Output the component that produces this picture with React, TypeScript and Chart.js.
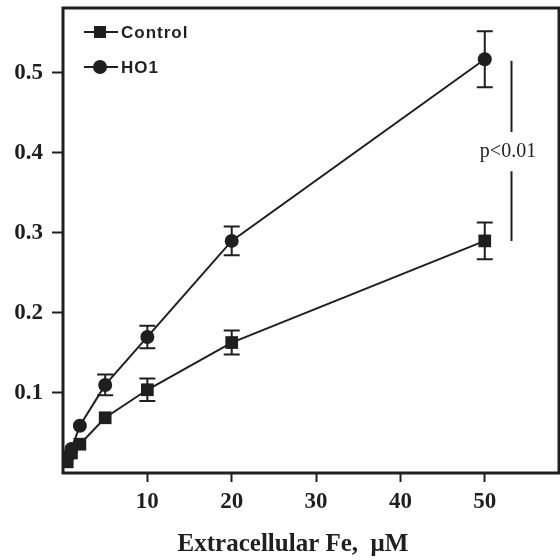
import React, { useEffect, useRef } from "react";
import { Chart, registerables } from "chart.js";

Chart.register(...registerables);

const xValues = [0.5, 1, 2, 5, 10, 20, 50];
const controlValues = [0.014, 0.025, 0.036, 0.069, 0.104, 0.163, 0.29];
const controlErrors = [0, 0, 0, 0, 0.014, 0.015, 0.023];
const ho1Values = [0.02, 0.03, 0.059, 0.11, 0.17, 0.29, 0.517];
const ho1Errors = [0, 0, 0, 0.013, 0.014, 0.018, 0.035];
const xTicks = [10, 20, 30, 40, 50];
const yTicks = [0.1, 0.2, 0.3, 0.4, 0.5];
const seriesNames = ["Control", "HO1"];
const xTitle = "Extracellular Fe,  \u03bcM";
const pText = "p<0.01";

const INK = "#1f1f1f";

const customPlugin = {
  id: "custom",
  afterDatasetsDraw(chart: any) {
    const ctx = chart.ctx;
    const xs = chart.scales.x;
    const ys = chart.scales.y;
    const errs = [controlErrors, ho1Errors];
    ctx.save();
    ctx.strokeStyle = INK;
    ctx.lineWidth = 2;
    chart.data.datasets.forEach((ds: any, di: number) => {
      ds.data.forEach((p: any, i: number) => {
        const e = errs[di][i];
        if (!e) return;
        const px = xs.getPixelForValue(p.x);
        const top = ys.getPixelForValue(p.y + e);
        const bot = ys.getPixelForValue(p.y - e);
        ctx.beginPath();
        ctx.moveTo(px, top);
        ctx.lineTo(px, bot);
        ctx.moveTo(px - 8, top);
        ctx.lineTo(px + 8, top);
        ctx.moveTo(px - 8, bot);
        ctx.lineTo(px + 8, bot);
        ctx.stroke();
      });
    });
    ctx.restore();
  },
  afterDraw(chart: any) {
    const ctx = chart.ctx;
    const a = chart.chartArea;
    const ys = chart.scales.y;
    ctx.save();
    // box
    ctx.strokeStyle = INK;
    ctx.lineWidth = 3;
    ctx.strokeRect(a.left, a.top, a.right - a.left, a.bottom - a.top);

    // legend
    const items = [
      { name: seriesNames[0], y: 32, style: "rect" },
      { name: seriesNames[1], y: 67, style: "circle" },
    ];
    items.forEach((it) => {
      ctx.strokeStyle = INK;
      ctx.fillStyle = INK;
      ctx.lineWidth = 2;
      ctx.beginPath();
      ctx.moveTo(84, it.y);
      ctx.lineTo(118, it.y);
      ctx.stroke();
      ctx.beginPath();
      if (it.style === "rect") {
        ctx.rect(94, it.y - 6, 12, 12);
      } else {
        ctx.arc(100, it.y, 7, 0, Math.PI * 2);
      }
      ctx.fill();
      ctx.font = "bold 17px 'Liberation Sans', Arial, sans-serif";
      (ctx as any).letterSpacing = "1px";
      ctx.textAlign = "left";
      ctx.textBaseline = "middle";
      ctx.fillText(it.name, 121, it.y + 1);
      (ctx as any).letterSpacing = "0px";
    });

    // significance bar
    const bx = 511.5;
    ctx.lineWidth = 2;
    ctx.beginPath();
    ctx.moveTo(bx, ys.getPixelForValue(0.515));
    ctx.lineTo(bx, ys.getPixelForValue(0.426));
    ctx.moveTo(bx, ys.getPixelForValue(0.377));
    ctx.lineTo(bx, ys.getPixelForValue(0.29));
    ctx.stroke();
    ctx.font = "20px 'Liberation Serif', 'Times New Roman', serif";
    ctx.textAlign = "center";
    ctx.textBaseline = "middle";
    ctx.fillText(pText, 508, ys.getPixelForValue(0.4015));

    // x title
    ctx.font = "bold 25px 'Liberation Serif', 'Times New Roman', serif";
    ctx.textAlign = "center";
    ctx.textBaseline = "middle";
    ctx.fillText(xTitle, 293, 545);
    ctx.restore();
  },
};

const zeroPad = (s: any) => {
  s.paddingTop = 0;
  s.paddingBottom = 0;
  s.paddingLeft = 0;
  s.paddingRight = 0;
};

export default function App() {
  const ref = useRef<HTMLCanvasElement>(null);
  useEffect(() => {
    if (!ref.current) return;
    const mk = (vals: number[]) => xValues.map((x, i) => ({ x, y: vals[i] }));
    const chart = new Chart(ref.current, {
      type: "scatter",
      data: {
        datasets: [
          {
            label: seriesNames[0],
            data: mk(controlValues),
            showLine: true,
            borderColor: INK,
            backgroundColor: INK,
            borderWidth: 2,
            pointStyle: "rect",
            pointRadius: 9,
            pointBorderWidth: 0,
          },
          {
            label: seriesNames[1],
            data: mk(ho1Values),
            showLine: true,
            borderColor: INK,
            backgroundColor: INK,
            borderWidth: 2,
            pointStyle: "circle",
            pointRadius: 7,
            pointBorderWidth: 0,
          },
        ],
      },
      plugins: [customPlugin],
      options: {
        animation: false,
        responsive: false,
        layout: { autoPadding: false, padding: { top: 8, right: 1, left: 0, bottom: 0 } },
        plugins: { legend: { display: false }, tooltip: { enabled: false } },
        scales: {
          x: {
            type: "linear",
            min: 0,
            max: 58.8,
            afterBuildTicks: (s: any) => {
              s.ticks = xTicks.map((v) => ({ value: v }));
            },
            afterFit: (s: any) => {
              s.height = 87;
              zeroPad(s);
            },
            grid: { drawOnChartArea: false, drawTicks: true, tickLength: 9, color: INK, tickWidth: 2 },
            border: { display: false },
            ticks: {
              color: INK,
              padding: 6,
              font: { family: "'Liberation Serif', 'Times New Roman', serif", size: 23, weight: "bold" },
            },
          },
          y: {
            type: "linear",
            min: 0,
            max: 0.581,
            afterBuildTicks: (s: any) => {
              s.ticks = yTicks.map((v) => ({ value: v }));
            },
            afterFit: (s: any) => {
              s.width = 63;
              zeroPad(s);
            },
            grid: { drawOnChartArea: false, drawTicks: true, tickLength: 11, color: INK, tickWidth: 2 },
            border: { display: false },
            ticks: {
              color: INK,
              padding: 9,
              callback: (v: any) => Number(v).toFixed(1),
              font: { family: "'Liberation Serif', 'Times New Roman', serif", size: 23, weight: "bold" },
            },
          },
        },
      },
    } as any);
    return () => chart.destroy();
  }, []);
  return (
    <div style={{ position: "fixed", left: 0, top: 0, width: 560, height: 560, background: "#fff" }}>
      <canvas ref={ref} width={560} height={560} style={{ width: 560, height: 560 }} />
    </div>
  );
}
